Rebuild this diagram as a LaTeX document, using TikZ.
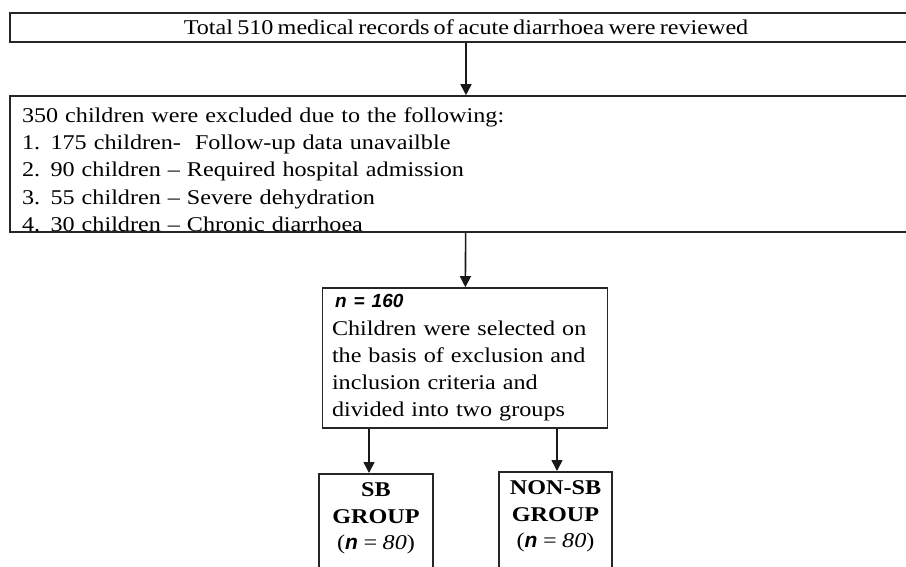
\documentclass[tikz,border=0pt]{standalone}
\usepackage{fontspec}
\setmainfont{Liberation Serif}[FakeStretch=1.15,WordSpace=0.7]
\setsansfont{Liberation Sans}
\usetikzlibrary{arrows.meta,positioning}

\tikzset{
  flowbox/.style={draw=black!85,line width=1.6pt,inner sep=0pt,
    font=\fontsize{21}{27.3}\selectfont},
  grpbox/.style={flowbox,align=center,anchor=north,inner ysep=9pt,
    font=\fontsize{21}{26.5}\selectfont},
  flowarrow/.style={-{Triangle[length=11pt,width=11pt]},line width=1.6pt,black!90}
}

\newcommand{\nbf}{\sffamily\bfseries\itshape n}

\begin{document}
\begin{tikzpicture}[x=1pt,y=-1pt]
\useasboundingbox (0,0) rectangle (906,566);
\clip (0,0) rectangle (906,566);

% top record count
\node[flowbox,minimum width=912pt,minimum height=29pt] (total) at (466,27.5)
  {Total 510 medical records of acute diarrhoea were reviewed};

% exclusions
\node[flowbox,minimum width=912pt,minimum height=136pt,text width=888pt,align=left] (excl) at (466,164)
  {\rule{0pt}{26pt}350 children were excluded due to the following:\\
   1. 175 children-\ \ Follow-up data unavailble\\
   2. 90 children -- Required hospital admission\\
   3. 55 children -- Severe dehydration\\
   4. 30 children -- Chronic diarrhoea};

% selected children
\node[flowbox,minimum width=285pt,minimum height=140pt,text width=266pt,align=left] (sel) at (465,358)
  {\hspace{3pt}{\fontsize{19}{27}\sffamily\bfseries\itshape n = 160}\\
   Children were selected on\\
   the basis of exclusion and\\
   inclusion criteria and\\
   divided into two groups};

% the two groups
\node[grpbox,minimum width=114pt] (sb) at (376,473)
  {\textbf{SB}\\ \textbf{GROUP}\\ ({\nbf} \textit{= 80})\\ \strut\\ \strut};
\node[grpbox,minimum width=113pt] (nonsb) at (555.5,471)
  {\textbf{NON-SB}\\ \textbf{GROUP}\\ ({\nbf} \textit{= 80})\\ \strut\\ \strut};

\draw[flowarrow] (total) -- (excl);
\draw[flowarrow] (excl) -- (sel);
\draw[flowarrow] ([xshift=-7pt]sel.south -| sb.north) -- ([xshift=-7pt]sb.north);
\draw[flowarrow] ([xshift=1.5pt]sel.south -| nonsb.north) -- ([xshift=1.5pt]nonsb.north);

\end{tikzpicture}
\end{document}
